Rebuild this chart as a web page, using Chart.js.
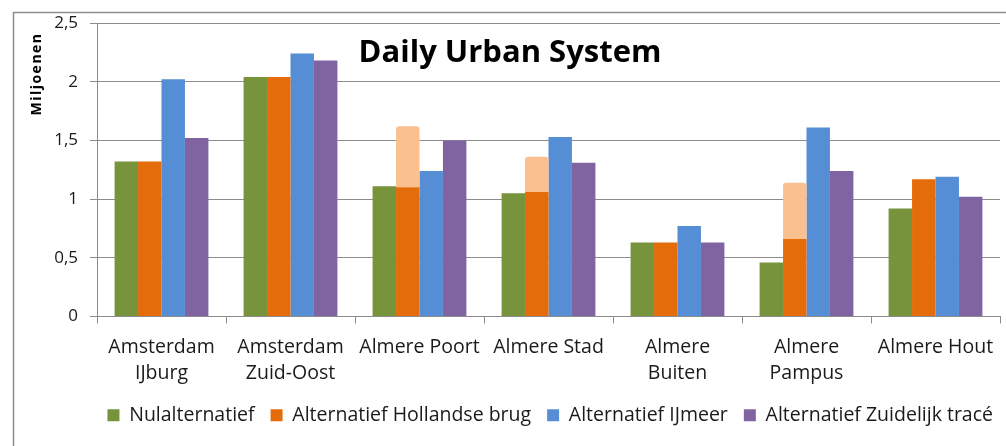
<!DOCTYPE html>
<html>
<head>
<meta charset="utf-8">
<script src="https://cdn.jsdelivr.net/npm/chart.js@4/dist/chart.umd.min.js"></script>
<style>
html,body{margin:0;padding:0;background:#fff;}
canvas{display:block;}
</style>
</head>
<body>
<canvas id="c" width="1006" height="446"></canvas>
<script>
const categories = [["Amsterdam","IJburg"],["Amsterdam","Zuid-Oost"],"Almere Poort","Almere Stad",["Almere","Buiten"],["Almere","Pampus"],"Almere Hout"];
const seriesNames = ["Nulalternatief","Alternatief Hollandse brug","Alternatief IJmeer","Alternatief Zuidelijk tracé"];
const nulalternatief = [1.32, 2.04, 1.11, 1.05, 0.63, 0.46, 0.92];
const hollandseBrug = [1.32, 2.04, 1.10, 1.06, 0.63, 0.66, 1.17];
const hollandseBrugExtra = [0, 0, 0.52, 0.30, 0, 0.48, 0];
const ijmeer = [2.02, 2.24, 1.24, 1.53, 0.77, 1.61, 1.19];
const zuidelijkTrace = [1.52, 2.18, 1.50, 1.31, 0.63, 1.24, 1.02];
const yTicks = [0, 0.5, 1, 1.5, 2, 2.5];
const chartTitle = "Daily Urban System";
const yTitle = "Miljoenen";

const FONT = "'Open Sans', sans-serif";
Chart.defaults.font.family = FONT;
Chart.defaults.color = '#1a1a1a';
const nlFormat = new Intl.NumberFormat('nl-NL', {maximumFractionDigits: 1});

const decor = {
  id: 'decor',
  afterLayout(chart) {
    if (chart.legend) { chart.legend.left += 9; chart.legend.right += 9; }
  },
  afterDraw(chart) {
    const ctx = chart.ctx;
    ctx.save();
    ctx.strokeStyle = '#8c8c8c';
    ctx.lineWidth = 1.5;
    ctx.beginPath();
    ctx.moveTo(13.5, 446);
    ctx.lineTo(13.5, 12.5);
    ctx.lineTo(1006, 12.5);
    ctx.stroke();
    ctx.fillStyle = '#000';
    ctx.font = "bold 31px " + FONT;
    ctx.textAlign = 'center';
    ctx.textBaseline = 'alphabetic';
    ctx.fillText(chartTitle, 510, 62);
    ctx.translate(41, 74);
    ctx.rotate(-Math.PI / 2);
    ctx.font = "bold 14px " + FONT;
    ctx.letterSpacing = '1.5px';
    ctx.textAlign = 'center';
    ctx.fillText(yTitle, 0, 0);
    ctx.restore();
  }
};

const colors = ['#77933C', '#E46C0A', '#FAC090', '#558ED5', '#8064A2'];

new Chart(document.getElementById('c'), {
  type: 'bar',
  data: {
    labels: categories,
    datasets: [
      {label: seriesNames[0], data: nulalternatief, backgroundColor: colors[0], stack: 'g'},
      {label: seriesNames[1], data: hollandseBrug, backgroundColor: colors[1], stack: 'o'},
      {label: 'extra', data: hollandseBrugExtra, backgroundColor: colors[2], stack: 'o', borderRadius: {topLeft: 3, topRight: 3}, borderSkipped: 'start'},
      {label: seriesNames[2], data: ijmeer, backgroundColor: colors[3], stack: 'b'},
      {label: seriesNames[3], data: zuidelijkTrace, backgroundColor: colors[4], stack: 'p'}
    ]
  },
  options: {
    responsive: false,
    animation: false,
    categoryPercentage: 4 / 5.5,
    barPercentage: 1,
    layout: {padding: {top: 23, right: 6, left: 0, bottom: 11}},
    plugins: {
      legend: {
        position: 'bottom',
        align: 'end',
        labels: {
          boxWidth: 12, boxHeight: 12, padding: 16,
          font: {size: 19.5}, color: '#1a1a1a',
          filter: (item) => item.datasetIndex !== 2
        }
      },
      tooltip: {enabled: false},
      title: {display: false}
    },
    scales: {
      x: {
        afterFit(scale) { scale.height = 73; },
        grid: {offset: true, drawOnChartArea: false, tickLength: 7, color: '#8c8c8c', lineWidth: 1},
        border: {color: '#8c8c8c', width: 1},
        ticks: {font: {size: 19.5, lineHeight: 1.33}, padding: 11, maxRotation: 0, autoSkip: false, color: '#1a1a1a'}
      },
      y: {
        stacked: true,
        min: 0, max: 2.5,
        afterBuildTicks(scale) { scale.ticks = yTicks.map(v => ({value: v})); },
        afterFit(scale) { scale.width = 97; },
        grid: {tickLength: 7, color: '#8c8c8c', lineWidth: 1},
        border: {color: '#8c8c8c', width: 1},
        ticks: {font: {size: 17}, padding: 12, color: '#1a1a1a', callback: (v) => nlFormat.format(v)}
      }
    }
  },
  plugins: [decor]
});
</script>
</body>
</html>
